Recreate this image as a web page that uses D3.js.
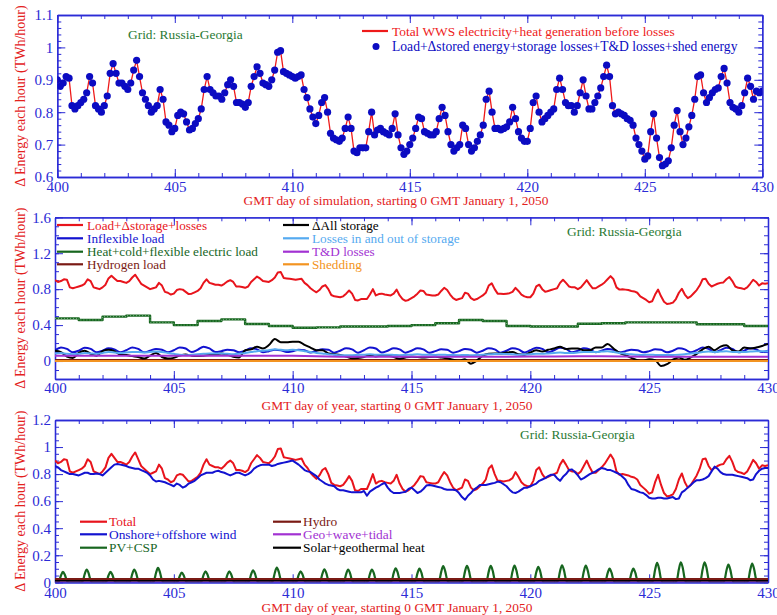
<!DOCTYPE html>
<html>
<head>
<meta charset="utf-8">
<script src="https://cdn.jsdelivr.net/npm/d3@7"></script>
<style>
  body { margin: 0; background: #fff; }
  svg { font-family: "Liberation Serif", "Times New Roman", serif; }
</style>
</head>
<body>
<script>
// ---- data (day 400 .. 430) ----
// 3-hourly, total WWS generation = load + storage + losses
const total = [
  0.90, 0.88, 0.89, 0.91, 0.905, 0.82, 0.81, 0.82,
  0.83, 0.84, 0.86, 0.91, 0.89, 0.82, 0.81, 0.80,
  0.82, 0.85, 0.92, 0.95, 0.92, 0.89, 0.89, 0.88,
  0.87, 0.89, 0.93, 0.96, 0.91, 0.86, 0.84, 0.82,
  0.80, 0.81, 0.82, 0.87, 0.84, 0.77, 0.76, 0.74,
  0.75, 0.79, 0.80, 0.795, 0.77, 0.745, 0.75, 0.765,
  0.78, 0.81, 0.87, 0.91, 0.87, 0.86, 0.85, 0.85,
  0.84, 0.86, 0.885, 0.90, 0.88, 0.83, 0.83, 0.825,
  0.815, 0.83, 0.88, 0.91, 0.94, 0.92, 0.89, 0.885,
  0.88, 0.90, 0.93, 0.985, 0.99, 0.925, 0.92, 0.915,
  0.91, 0.905, 0.91, 0.915, 0.87, 0.845, 0.81, 0.785,
  0.765, 0.79, 0.83, 0.845, 0.80, 0.735, 0.72, 0.715,
  0.71, 0.72, 0.75, 0.785, 0.75, 0.68, 0.675, 0.69,
  0.69, 0.69, 0.74, 0.80, 0.73, 0.745, 0.75, 0.74,
  0.735, 0.73, 0.75, 0.795, 0.73, 0.69, 0.67, 0.68,
  0.70, 0.72, 0.75, 0.785, 0.78, 0.74, 0.735, 0.73,
  0.73, 0.74, 0.78, 0.815, 0.79, 0.74, 0.70, 0.68,
  0.69, 0.70, 0.76, 0.75, 0.70, 0.68, 0.69, 0.71,
  0.73, 0.76, 0.84, 0.865, 0.80, 0.75, 0.75, 0.745,
  0.75, 0.755, 0.77, 0.815, 0.78, 0.74, 0.72, 0.71,
  0.71, 0.75, 0.83, 0.85, 0.80, 0.77, 0.78, 0.79,
  0.80, 0.81, 0.87, 0.905, 0.87, 0.83, 0.82, 0.82,
  0.80, 0.82, 0.86, 0.90, 0.85, 0.81, 0.81, 0.83,
  0.85, 0.875, 0.91, 0.945, 0.91, 0.82, 0.795, 0.80,
  0.795, 0.79, 0.78, 0.775, 0.76, 0.72, 0.70, 0.68,
  0.655, 0.665, 0.74, 0.795, 0.72, 0.66, 0.635, 0.64,
  0.65, 0.69, 0.76, 0.805, 0.74, 0.70, 0.72, 0.755,
  0.79, 0.84, 0.91, 0.915, 0.86, 0.83, 0.845, 0.86,
  0.87, 0.875, 0.91, 0.935, 0.89, 0.83, 0.815, 0.81,
  0.80, 0.82, 0.86, 0.905, 0.88, 0.84, 0.865, 0.86,
  0.865
];

// 3-hourly onshore+offshore wind
const wind = [
  0.86, 0.85, 0.83, 0.82, 0.81, 0.80, 0.80, 0.795,
  0.79, 0.80, 0.81, 0.81, 0.80, 0.80, 0.805, 0.80,
  0.79, 0.81, 0.83, 0.85, 0.87, 0.875, 0.87, 0.865,
  0.86, 0.85, 0.845, 0.84, 0.84, 0.83, 0.82, 0.81,
  0.79, 0.76, 0.745, 0.75, 0.745, 0.74, 0.73, 0.72,
  0.71, 0.73, 0.72, 0.70, 0.71, 0.73, 0.74, 0.75,
  0.77, 0.79, 0.80, 0.81, 0.81, 0.81, 0.82, 0.825,
  0.815, 0.81, 0.80, 0.79, 0.80, 0.81, 0.81, 0.80,
  0.79, 0.80, 0.815, 0.84, 0.855, 0.865, 0.87, 0.87,
  0.87, 0.86, 0.865, 0.875, 0.88, 0.885, 0.89, 0.895,
  0.90, 0.885, 0.87, 0.85, 0.83, 0.82, 0.815, 0.80,
  0.785, 0.76, 0.745, 0.73, 0.72, 0.715, 0.71, 0.69,
  0.68, 0.68, 0.675, 0.67, 0.665, 0.665, 0.665, 0.665,
  0.675, 0.64, 0.67, 0.685, 0.70, 0.71, 0.725, 0.735,
  0.70, 0.675, 0.66, 0.66, 0.66, 0.665, 0.67, 0.69,
  0.70, 0.68, 0.66, 0.67, 0.69, 0.715, 0.72, 0.715,
  0.71, 0.705, 0.70, 0.69, 0.685, 0.685, 0.685, 0.68,
  0.66, 0.63, 0.61, 0.64, 0.66, 0.685, 0.70, 0.72,
  0.72, 0.72, 0.725, 0.73, 0.735, 0.745, 0.74, 0.725,
  0.71, 0.685, 0.665, 0.66, 0.67, 0.685, 0.70, 0.70,
  0.71, 0.72, 0.73, 0.75, 0.76, 0.77, 0.785, 0.795,
  0.795, 0.77, 0.75, 0.78, 0.80, 0.83, 0.835, 0.815,
  0.79, 0.76, 0.77, 0.785, 0.80, 0.81, 0.82, 0.835,
  0.845, 0.84, 0.83, 0.83, 0.82, 0.81, 0.80, 0.78,
  0.76, 0.72, 0.69, 0.685, 0.675, 0.665, 0.66, 0.645,
  0.625, 0.62, 0.62, 0.625, 0.625, 0.62, 0.62, 0.625,
  0.63, 0.615, 0.62, 0.665, 0.68, 0.70, 0.72, 0.74,
  0.755, 0.755, 0.76, 0.77, 0.785, 0.82, 0.855, 0.84,
  0.815, 0.80, 0.795, 0.795, 0.795, 0.79, 0.785, 0.78,
  0.775, 0.77, 0.755, 0.76, 0.80, 0.825, 0.84, 0.845,
  0.845
];

// 2-hourly PV+CSP
const pv = [
  0, 0, 0.008, 0.050, 0.077, 0.054, 0.012, 0, 0, 0, 0, 0,
  0, 0, 0.009, 0.061, 0.094, 0.066, 0.014, 0, 0, 0, 0, 0,
  0, 0, 0.008, 0.050, 0.077, 0.054, 0.012, 0, 0, 0, 0, 0,
  0, 0, 0.009, 0.061, 0.094, 0.066, 0.014, 0, 0, 0, 0, 0,
  0, 0, 0.011, 0.069, 0.106, 0.074, 0.016, 0, 0, 0, 0, 0,
  0, 0, 0.007, 0.047, 0.072, 0.050, 0.011, 0, 0, 0, 0, 0,
  0, 0, 0.008, 0.053, 0.081, 0.057, 0.012, 0, 0, 0, 0, 0,
  0, 0, 0.008, 0.053, 0.081, 0.057, 0.012, 0, 0, 0, 0, 0,
  0, 0, 0.009, 0.058, 0.089, 0.062, 0.013, 0, 0, 0, 0, 0,
  0, 0, 0.011, 0.071, 0.109, 0.076, 0.016, 0, 0, 0, 0, 0,
  0, 0, 0.008, 0.053, 0.081, 0.057, 0.012, 0, 0, 0, 0, 0,
  0, 0, 0.010, 0.062, 0.096, 0.067, 0.014, 0, 0, 0, 0, 0,
  0, 0, 0.009, 0.061, 0.094, 0.066, 0.014, 0, 0, 0, 0, 0,
  0, 0, 0.009, 0.061, 0.094, 0.066, 0.014, 0, 0, 0, 0, 0,
  0, 0, 0.010, 0.068, 0.104, 0.073, 0.016, 0, 0, 0, 0, 0,
  0, 0, 0.010, 0.066, 0.101, 0.071, 0.015, 0, 0, 0, 0, 0,
  0, 0, 0.012, 0.077, 0.119, 0.083, 0.018, 0, 0, 0, 0, 0,
  0, 0, 0.012, 0.079, 0.121, 0.085, 0.018, 0, 0, 0, 0, 0,
  0, 0, 0.012, 0.079, 0.121, 0.085, 0.018, 0, 0, 0, 0, 0,
  0, 0, 0.012, 0.080, 0.123, 0.086, 0.018, 0, 0, 0, 0, 0,
  0, 0, 0.011, 0.074, 0.114, 0.080, 0.017, 0, 0, 0, 0, 0,
  0, 0, 0.013, 0.082, 0.126, 0.088, 0.019, 0, 0, 0, 0, 0,
  0, 0, 0.012, 0.080, 0.123, 0.086, 0.018, 0, 0, 0, 0, 0,
  0, 0, 0.010, 0.066, 0.101, 0.071, 0.015, 0, 0, 0, 0, 0,
  0, 0, 0.010, 0.066, 0.101, 0.071, 0.015, 0, 0, 0, 0, 0,
  0, 0, 0.014, 0.093, 0.143, 0.100, 0.021, 0, 0, 0, 0, 0,
  0, 0, 0.015, 0.096, 0.148, 0.104, 0.022, 0, 0, 0, 0, 0,
  0, 0, 0.015, 0.096, 0.148, 0.104, 0.022, 0, 0, 0, 0, 0,
  0, 0, 0.013, 0.085, 0.131, 0.092, 0.020, 0, 0, 0, 0, 0,
  0, 0, 0.014, 0.090, 0.138, 0.097, 0.021, 0, 0, 0, 0, 0,
  0
];

// 6-hourly inflexible load
const inflexible = [
  0.12, 0.152, 0.135, 0.098,  0.115, 0.148, 0.135, 0.097,
  0.115, 0.141, 0.13, 0.097,  0.12, 0.152, 0.135, 0.097,
  0.115, 0.135, 0.125, 0.097, 0.12, 0.152, 0.14, 0.10,
  0.125, 0.16, 0.14, 0.10,    0.11, 0.125, 0.12, 0.097,
  0.115, 0.141, 0.13, 0.097,  0.11, 0.125, 0.12, 0.10,
  0.11, 0.125, 0.12, 0.095,   0.115, 0.13, 0.125, 0.093,
  0.115, 0.141, 0.13, 0.093,  0.12, 0.152, 0.14, 0.095,
  0.115, 0.141, 0.13, 0.093,  0.115, 0.141, 0.13, 0.093,
  0.11, 0.13, 0.125, 0.093,   0.11, 0.135, 0.125, 0.093,
  0.115, 0.141, 0.13, 0.093,  0.115, 0.141, 0.13, 0.095,
  0.12, 0.148, 0.135, 0.097,  0.12, 0.148, 0.135, 0.097,
  0.115, 0.141, 0.13, 0.097,  0.115, 0.135, 0.125, 0.097,
  0.11, 0.125, 0.12, 0.097,   0.11, 0.13, 0.125, 0.097,
  0.115, 0.141, 0.13, 0.097,  0.12, 0.152, 0.135, 0.097,
  0.12, 0.148, 0.135, 0.097,  0.115, 0.141, 0.13, 0.10,
  0.115
];

// 6-hourly change in all storage
const dStorage = [
  0.115, 0.10, 0.05, 0.035,   0.09, 0.115, 0.08, 0.06,
  0.11, 0.125, 0.11, 0.07,    0.067, 0.055, 0.045, 0.028,
  0.06, 0.09, 0.045, 0.028,   0.035, 0.06, 0.072, 0.06,
  0.056, 0.06, 0.067, 0.07,   0.085, 0.07, 0.048, 0.04,
  0.12, 0.13, 0.16, 0.14,     0.178, 0.245, 0.21, 0.21,
  0.215, 0.215, 0.18, 0.15,   0.12, 0.12, 0.085, 0.075,
  0.067, 0.05, 0.03, 0.035,   0.045, 0.065, 0.05, 0.06,
  0.06, 0.045, 0.025, 0.04,   0.048, 0.045, 0.04, 0.045,
  0.048, 0.04, 0.03, 0.015,   0.006, 0.02, -0.03, 0.005,
  0.06, 0.08, 0.085, 0.085,   0.095, 0.10, 0.075, 0.07,
  0.095, 0.12, 0.105, 0.125,  0.14, 0.16, 0.135, 0.14,
  0.14, 0.12, 0.12, 0.15,     0.15, 0.19, 0.14, 0.09,
  0.067, 0.035, 0.01, 0.004,  0.02, 0.01, -0.055, -0.035,
  0.015, 0.04, 0.015, 0.04,   0.08, 0.13, 0.16, 0.12,
  0.16, 0.175, 0.12, 0.105,   0.15, 0.14, 0.15, 0.168,
  0.19
];

// 6-hourly losses in and out of storage
const storageLoss = [
  0.085, 0.09, 0.08, 0.075,   0.08, 0.09, 0.085, 0.08,
  0.09, 0.10, 0.095, 0.09,    0.095, 0.10, 0.10, 0.095,
  0.10, 0.105, 0.10, 0.09,    0.08, 0.07, 0.065, 0.07,
  0.075, 0.08, 0.085, 0.085,  0.085, 0.08, 0.075, 0.08,
  0.09, 0.10, 0.11, 0.115,    0.12, 0.13, 0.125, 0.12,
  0.125, 0.12, 0.11, 0.10,    0.09, 0.085, 0.075, 0.07,
  0.065, 0.065, 0.065, 0.068, 0.07, 0.075, 0.07, 0.07,
  0.07, 0.068, 0.065, 0.068,  0.07, 0.075, 0.07, 0.07,
  0.068, 0.07, 0.068, 0.066,  0.065, 0.068, 0.064, 0.066,
  0.07, 0.075, 0.078, 0.08,   0.078, 0.075, 0.07, 0.072,
  0.075, 0.08, 0.08, 0.085,   0.09, 0.095, 0.09, 0.09,
  0.095, 0.10, 0.10, 0.10,    0.105, 0.11, 0.10, 0.09,
  0.08, 0.075, 0.07, 0.068,   0.07, 0.068, 0.066, 0.066,
  0.068, 0.07, 0.075, 0.085,  0.09, 0.10, 0.105, 0.10,
  0.105, 0.11, 0.10, 0.10,    0.10, 0.105, 0.11, 0.11,
  0.11
];

// daily values
const heatFlex = [0.475, 0.457, 0.494, 0.505, 0.43, 0.40, 0.445, 0.464, 0.412, 0.39,
  0.37, 0.375, 0.385, 0.385, 0.39, 0.40, 0.42, 0.457, 0.446, 0.39,
  0.385, 0.385, 0.415, 0.42, 0.43, 0.43, 0.43, 0.41, 0.41, 0.39, 0.39];
const tdLoss = [0.058, 0.058, 0.058, 0.058, 0.058, 0.058, 0.058, 0.058, 0.058, 0.058,
  0.058, 0.052, 0.048, 0.048, 0.048, 0.048, 0.048, 0.048, 0.048, 0.048,
  0.05, 0.05, 0.052, 0.052, 0.05, 0.048, 0.048, 0.048, 0.048, 0.048, 0.048];
const hydrogen = [0.012, 0.012, 0.012, 0.012, 0.012, 0.012, 0.012, 0.012, 0.012, 0.012,
  0.012, 0.012, 0.012, 0.012, 0.012, 0.012, 0.012, 0.012, 0.012, 0.012,
  0.012, 0.012, 0.012, 0.012, 0.012, 0.012, 0.012, 0.012, 0.012, 0.012, 0.012];
const shedding = [0, 0, 0, 0, 0, 0, 0, 0, 0, 0, 0, 0, 0, 0, 0, 0,
  0, 0, 0, 0, 0, 0, 0, 0, 0, 0, 0, 0, 0, 0, 0];
const hydro = [0.024, 0.024, 0.024, 0.024, 0.024, 0.024, 0.024, 0.024, 0.024, 0.024,
  0.024, 0.024, 0.024, 0.024, 0.024, 0.024, 0.024, 0.024, 0.024, 0.024,
  0.024, 0.024, 0.024, 0.024, 0.024, 0.024, 0.024, 0.024, 0.024, 0.024, 0.024];
const geo = [0.003, 0.003, 0.003, 0.003, 0.003, 0.003, 0.003, 0.003, 0.003, 0.003,
  0.003, 0.003, 0.003, 0.003, 0.003, 0.003, 0.003, 0.003, 0.003, 0.003,
  0.003, 0.003, 0.003, 0.003, 0.003, 0.003, 0.003, 0.003, 0.003, 0.003, 0.003];
const solarHeat = [0.012, 0.012, 0.012, 0.012, 0.012, 0.012, 0.012, 0.012, 0.012, 0.012,
  0.012, 0.012, 0.012, 0.012, 0.012, 0.012, 0.012, 0.012, 0.012, 0.012,
  0.012, 0.012, 0.012, 0.012, 0.012, 0.012, 0.012, 0.012, 0.012, 0.012, 0.012];

const xMajor = [400, 405, 410, 415, 420, 425, 430];

// ---- setup ----
const width = 777;
const height = 615;
const axisColor = "#2b2bd6";
const titleColor = "#e3211c";
const gridColor = "#2a7a34";
const fs = 13.4; // text size of legends and titles

const svg = d3.select("body").append("svg")
  .attr("width", width)
  .attr("height", height);

// turn a value array with fixed step (in days) into [day, value] points
function pts(vals, step) {
  return vals.map((v, i) => [400 + i * step, v]);
}

function range(a, b, s) {
  const n = Math.round((b - a) / s);
  return d3.range(n + 1).map(i => +(a + i * s).toFixed(3));
}

function styleAxis(sel) {
  sel.attr("font-family", null).attr("font-size", null);
  sel.select(".domain").attr("stroke", axisColor).attr("stroke-width", 1.3);
  sel.selectAll(".tick line").attr("stroke", axisColor).attr("stroke-width", 1);
  sel.selectAll(".tick text").attr("fill", axisColor).style("font-size", "15px");
}

let clipId = 0;
function makePanel(o) {
  const x = d3.scaleLinear().domain([400, 430]).range([o.l, o.r]);
  const y = d3.scaleLinear().domain(o.yDomain).range([o.b, o.t]);
  const g = svg.append("g");
  const fmt = d => String(+d.toFixed(2));

  // minor ticks first
  g.append("g").attr("transform", `translate(0,${o.b})`)
    .call(d3.axisBottom(x).tickValues(d3.range(400, 431)).tickSize(-4).tickSizeOuter(0).tickFormat(""))
    .call(styleAxis);
  g.append("g").attr("transform", `translate(0,${o.t})`)
    .call(d3.axisTop(x).tickValues(d3.range(400, 431)).tickSize(-4).tickSizeOuter(0).tickFormat(""))
    .call(styleAxis);
  g.append("g").attr("transform", `translate(${o.l},0)`)
    .call(d3.axisLeft(y).tickValues(o.yMinor).tickSize(-4).tickSizeOuter(0).tickFormat(""))
    .call(styleAxis);
  g.append("g").attr("transform", `translate(${o.r},0)`)
    .call(d3.axisRight(y).tickValues(o.yMinor).tickSize(-4).tickSizeOuter(0).tickFormat(""))
    .call(styleAxis);

  // major ticks and labels
  g.append("g").attr("transform", `translate(0,${o.b})`)
    .call(d3.axisBottom(x).tickValues(xMajor).tickSize(-8).tickSizeOuter(0).tickPadding(o.xPad).tickFormat(d3.format("d")))
    .call(styleAxis);
  g.append("g").attr("transform", `translate(0,${o.t})`)
    .call(d3.axisTop(x).tickValues(xMajor).tickSize(-8).tickSizeOuter(0).tickFormat(""))
    .call(styleAxis);
  g.append("g").attr("transform", `translate(${o.l},0)`)
    .call(d3.axisLeft(y).tickValues(o.yMajor).tickSize(-8).tickSizeOuter(0).tickPadding(4).tickFormat(fmt))
    .call(styleAxis);
  g.append("g").attr("transform", `translate(${o.r},0)`)
    .call(d3.axisRight(y).tickValues(o.yMajor).tickSize(-8).tickSizeOuter(0).tickFormat(""))
    .call(styleAxis);

  // titles
  g.append("text")
    .attr("transform", `translate(20,${(o.t + o.b) / 2}) rotate(-90)`)
    .attr("text-anchor", "middle")
    .attr("dy", "0.35em")
    .attr("fill", titleColor)
    .style("font-size", "14px")
    .text("\u0394 Energy each hour (TWh/hour)");
  g.append("text")
    .attr("x", o.titleX)
    .attr("y", o.titleY)
    .attr("text-anchor", "middle")
    .attr("fill", titleColor)
    .style("font-size", fs + "px")
    .text(o.xTitle);

  const id = "clip" + (clipId++);
  svg.append("clipPath").attr("id", id)
    .append("rect").attr("x", o.l).attr("y", o.t).attr("width", o.r - o.l).attr("height", o.b - o.t);
  const plot = g.append("g").attr("clip-path", `url(#${id})`);
  return { x, y, g, plot };
}

function drawLine(p, data, color, w, curve) {
  const line = d3.line()
    .x(d => p.x(d[0]))
    .y(d => p.y(d[1]))
    .curve(curve || d3.curveLinear);
  return p.plot.append("path")
    .datum(data)
    .attr("fill", "none")
    .attr("stroke", color)
    .attr("stroke-width", w)
    .attr("stroke-linejoin", "round")
    .attr("d", line);
}

function legendRow(g, x1, x2, tx, yy, color, label, size) {
  g.append("line")
    .attr("x1", x1).attr("x2", x2).attr("y1", yy).attr("y2", yy)
    .attr("stroke", color).attr("stroke-width", 2.2);
  g.append("text")
    .attr("x", tx).attr("y", yy).attr("dy", "0.35em")
    .attr("fill", color)
    .style("font-size", size + "px")
    .text(label);
}

function gridLabel(g, x, y) {
  g.append("text")
    .attr("x", x).attr("y", y).attr("dy", "0.35em")
    .attr("fill", gridColor)
    .style("font-size", fs + "px")
    .text("Grid: Russia-Georgia");
}

// ---- panel 1 ----
const p1 = makePanel({
  l: 57.3, r: 762.3, t: 15, b: 177,
  yDomain: [0.6, 1.1],
  yMajor: range(0.6, 1.1, 0.1),
  yMinor: range(0.6, 1.1, 0.02),
  xPad: 4,
  xTitle: "GMT day of simulation, starting 0 GMT January 1, 2050",
  titleX: 396, titleY: 205
});
const totalPts = pts(total, 0.125);
drawLine(p1, totalPts, "#ee1a1a", 1.3);
p1.plot.selectAll("circle")
  .data(totalPts)
  .join("circle")
  .attr("cx", d => p1.x(d[0]))
  .attr("cy", d => p1.y(d[1]))
  .attr("r", 3.6)
  .attr("fill", "#0b0bc2");
gridLabel(p1.g, 128, 34);
legendRow(p1.g, 362, 388, 392, 31, "#ee1a1a", "Total WWS electricity+heat generation before losses", 13.4);
p1.g.append("circle").attr("cx", 376).attr("cy", 46.5).attr("r", 3.5).attr("fill", "#0b0bc2");
p1.g.append("text").attr("x", 392).attr("y", 46.5).attr("dy", "0.35em")
  .attr("fill", "#0b0bc2").style("font-size", "13.6px")
  .text("Load+\u0394stored energy+storage losses+T&D losses+shed energy");

// ---- panel 2 ----
const p2 = makePanel({
  l: 55, r: 768, t: 217.3, b: 379,
  yDomain: [-0.2, 1.6],
  yMajor: range(0, 1.6, 0.4),
  yMinor: range(-0.2, 1.6, 0.1),
  xPad: 3,
  xTitle: "GMT day of year, starting 0 GMT January 1, 2050",
  titleX: 397, titleY: 410
});
drawLine(p2, pts(total, 0.125), "#e8141c", 2);
drawLine(p2, pts(inflexible, 0.25), "#1212d0", 2, d3.curveMonotoneX);
drawLine(p2, pts(heatFlex, 1), "#17661f", 2.4, d3.curveStepAfter);
drawLine(p2, pts(heatFlex, 1), "#8fc79a", 0.8, d3.curveStepAfter).attr("stroke-dasharray", "1,2");
drawLine(p2, pts(hydrogen, 1), "#7a1a14", 2);
drawLine(p2, pts(dStorage, 0.25), "#000000", 2, d3.curveMonotoneX);
drawLine(p2, pts(storageLoss, 0.25), "#55aaf0", 2, d3.curveMonotoneX);
drawLine(p2, pts(tdLoss, 1), "#a232d2", 2);
drawLine(p2, pts(shedding, 1), "#f39421", 2);
gridLabel(p2.g, 567, 231);
legendRow(p2.g, 57, 83, 87, 225, "#e8141c", "Load+\u0394storage+losses", 13.2);
legendRow(p2.g, 57, 83, 87, 238.3, "#1212d0", "Inflexible load", 13.2);
legendRow(p2.g, 57, 83, 87, 251.7, "#17661f", "Heat+cold+flexible electric load", 13.2);
legendRow(p2.g, 57, 83, 87, 264.3, "#7a1a14", "Hydrogen load", 13.2);
legendRow(p2.g, 283, 309, 312, 225, "#000000", "\u0394All storage", 13.2);
legendRow(p2.g, 283, 309, 312, 238.3, "#55aaf0", "Losses in and out of storage", 13.2);
legendRow(p2.g, 283, 309, 312, 251.7, "#a232d2", "T&D losses", 13.2);
legendRow(p2.g, 283, 309, 312, 264.3, "#f39421", "Shedding", 13.2);

// ---- panel 3 ----
const p3 = makePanel({
  l: 55, r: 768, t: 420, b: 582.3,
  yDomain: [0, 1.2],
  yMajor: range(0, 1.2, 0.2),
  yMinor: range(0, 1.2, 0.05),
  xPad: 5,
  xTitle: "GMT day of year, starting 0 GMT January 1, 2050",
  titleX: 397, titleY: 612
});
drawLine(p3, pts(total, 0.125), "#e8141c", 2);
drawLine(p3, pts(wind, 0.125), "#1212d0", 2);
drawLine(p3, pts(pv, 1 / 12), "#17661f", 2.2, d3.curveMonotoneX);
drawLine(p3, pts(hydro, 1), "#7a1a14", 2);
drawLine(p3, pts(geo, 1), "#a232d2", 1.5);
drawLine(p3, pts(solarHeat, 1), "#000000", 1.5);
gridLabel(p3.g, 520, 434);
legendRow(p3.g, 80, 107, 109, 521.7, "#e8141c", "Total", fs);
legendRow(p3.g, 80, 107, 109, 534.3, "#1212d0", "Onshore+offshore wind", fs);
legendRow(p3.g, 80, 107, 109, 547.7, "#17661f", "PV+CSP", fs);
legendRow(p3.g, 273, 301, 303, 521.7, "#7a1a14", "Hydro", fs);
legendRow(p3.g, 273, 301, 303, 534.3, "#a232d2", "Geo+wave+tidal", fs);
legendRow(p3.g, 273, 301, 303, 547.7, "#000000", "Solar+geothermal heat", fs);
</script>
</body>
</html>
